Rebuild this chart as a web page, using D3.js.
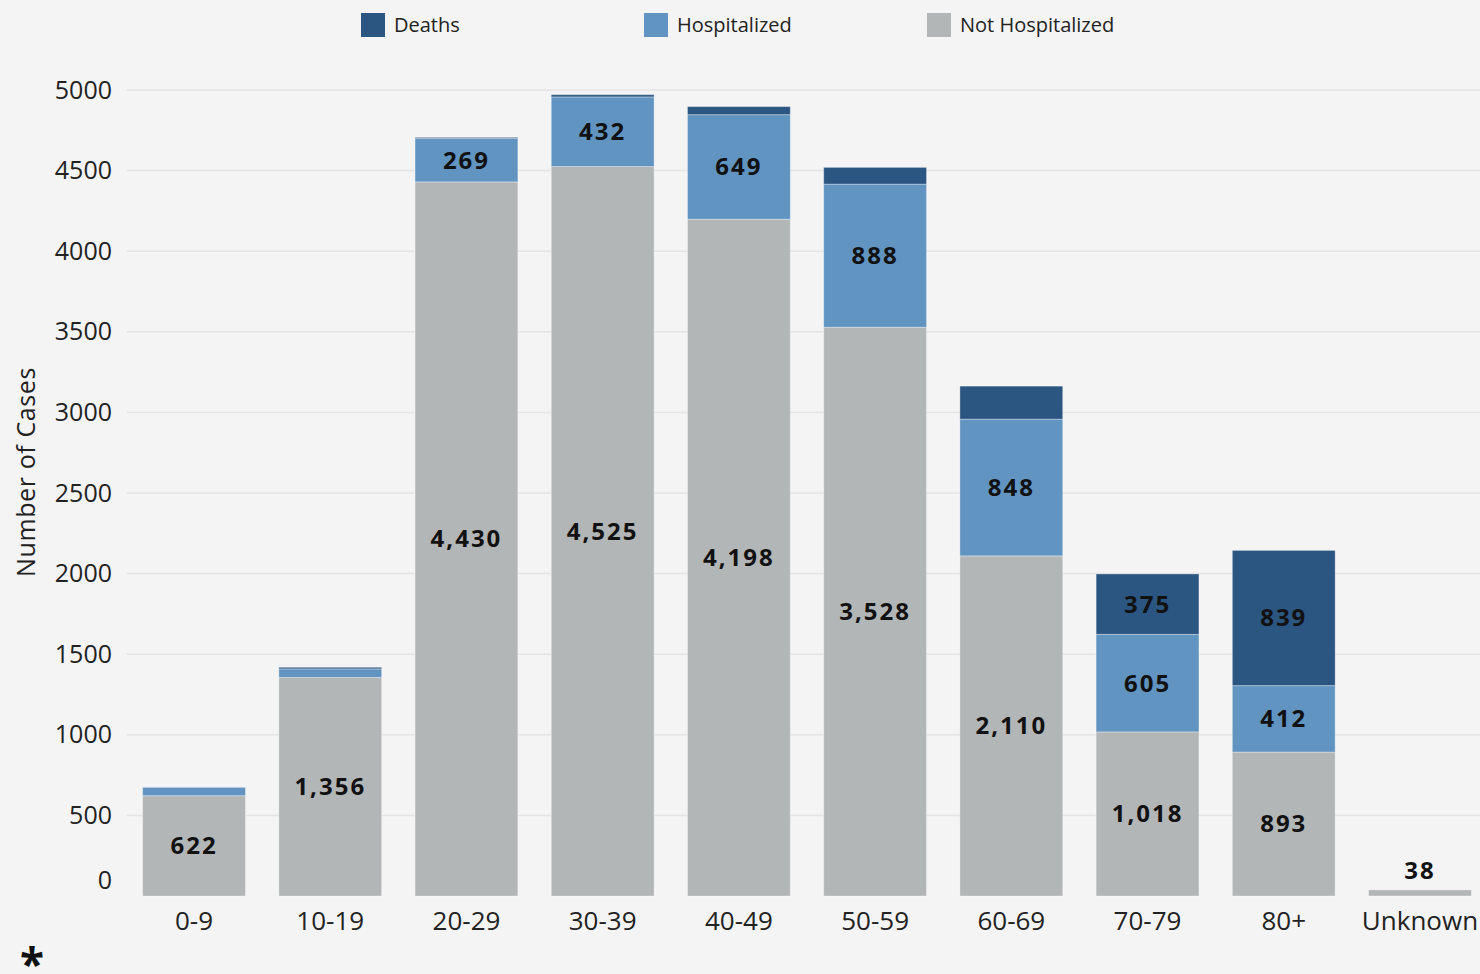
<!DOCTYPE html>
<html>
<head>
<meta charset="utf-8">
<script src="https://cdn.jsdelivr.net/npm/d3@7"></script>
<style>
  body { margin: 0; background: #f4f4f4; }
  svg { display: block; font-family: "Open Sans", "DejaVu Sans", sans-serif; }
</style>
</head>
<body>
<div id="chart"></div>
<script>
// data
const ageGroups = ["0-9", "10-19", "20-29", "30-39", "40-49", "50-59", "60-69", "70-79", "80+", "Unknown"];
const notHospitalized = [622, 1356, 4430, 4525, 4198, 3528, 2110, 1018, 893, 38];
const hospitalized = [52, 53, 269, 432, 649, 888, 848, 605, 412, 0];
const deaths = [0, 10, 7, 14, 50, 104, 205, 375, 839, 0];
const seriesNames = ["Not Hospitalized", "Hospitalized", "Deaths"];
const legendOrder = ["Deaths", "Hospitalized", "Not Hospitalized"];
const yTicks = [0, 500, 1000, 1500, 2000, 2500, 3000, 3500, 4000, 4500, 5000];

/** CONSTANTS */
const width = 1480,
  height = 974,
  margin = { top: 90, bottom: 78, left: 126, right: -8 };

const color = d3.scaleOrdinal()
  .domain(seriesNames)
  .range(["#b3b6b6", "#6194c0", "#2b5682"]);

const table = ageGroups.map((g, i) => ({
  group: g,
  "Not Hospitalized": notHospitalized[i],
  "Hospitalized": hospitalized[i],
  "Deaths": deaths[i]
}));

const stacked = d3.stack().keys(seriesNames)(table);

/** SCALES */
const xScale = d3.scaleBand()
  .domain(ageGroups)
  .range([margin.left, width - margin.right])
  .paddingInner(0.245)
  .paddingOuter(0.122);

const yScale = d3.scaleLinear()
  .domain([0, 5000])
  .range([height - margin.bottom, margin.top]);

/** DRAWING ELEMENTS */
const svg = d3.select("#chart")
  .append("svg")
  .attr("width", width)
  .attr("height", height);

svg.append("rect")
  .attr("width", width).attr("height", height)
  .attr("fill", "#f4f4f4");

// gridlines (none at zero)
svg.append("g")
  .selectAll("line")
  .data(yTicks.filter(d => d > 0))
  .join("line")
  .attr("x1", margin.left + 1)
  .attr("x2", width)
  .attr("y1", d => yScale(d))
  .attr("y2", d => yScale(d))
  .attr("stroke", "#e4e4e4")
  .attr("stroke-width", 1.5);

// y axis labels
const yAxis = d3.axisLeft(yScale).tickValues(yTicks).tickFormat(d3.format("d")).tickSize(0).tickPadding(14);
const yg = svg.append("g")
  .attr("transform", `translate(${margin.left},0)`)
  .call(yAxis);
yg.select(".domain").remove();
yg.selectAll("text")
  .attr("font-size", 25)
  .attr("font-family", "Open Sans, sans-serif")
  .attr("fill", "#222")
  .attr("dy", d => d === 0 ? "-0.3em" : "0.32em");

// y axis title
svg.append("text")
  .attr("transform", `translate(35, 472) rotate(-90)`)
  .attr("text-anchor", "middle")
  .attr("font-size", 25)
  .attr("letter-spacing", 0.6)
  .attr("fill", "#222")
  .text("Number of Cases");

// bars
svg.append("g")
  .selectAll("g")
  .data(stacked)
  .join("g")
  .attr("fill", d => color(d.key))
  .selectAll("rect")
  .data(d => d.map(v => Object.assign(v, { key: d.key })))
  .join("rect")
  .attr("x", d => xScale(d.data.group))
  .attr("width", xScale.bandwidth())
  .attr("y", d => yScale(d[1]))
  .attr("height", d => yScale(d[0]) - yScale(d[1]))
  .attr("stroke", "rgba(255,255,255,0.35)")
  .attr("stroke-width", 1);

// segment labels
const labels = [];
stacked.forEach(s => s.forEach(v => {
  const val = v[1] - v[0];
  const h = yScale(v[0]) - yScale(v[1]);
  if (val <= 0) return;
  if (h >= 40) labels.push({ group: v.data.group, y: (yScale(v[0]) + yScale(v[1])) / 2, val });
  else if (s.key === "Not Hospitalized" && v.data.group === "Unknown") labels.push({ group: v.data.group, y: yScale(v[1]) - 19, val });
}));

svg.append("g")
  .selectAll("text")
  .data(labels)
  .join("text")
  .attr("x", d => xScale(d.group) + xScale.bandwidth() / 2)
  .attr("y", d => d.y)
  .attr("dy", "0.35em")
  .attr("text-anchor", "middle")
  .attr("font-size", 24)
  .attr("font-weight", 700)
  .attr("letter-spacing", 2)
  .attr("fill", "#111")
  .text(d => d3.format(",")(d.val));

// x axis labels
const xAxis = d3.axisBottom(xScale).tickSize(0).tickPadding(16);
const xg = svg.append("g")
  .attr("transform", `translate(0,${height - margin.bottom})`)
  .call(xAxis);
xg.select(".domain").remove();
xg.selectAll("text")
  .attr("font-size", 26)
  .attr("font-family", "Open Sans, sans-serif")
  .attr("fill", "#222");

// legend
const legend = svg.append("g")
  .selectAll("g")
  .data(legendOrder)
  .join("g")
  .attr("transform", (d, i) => `translate(${361 + i * 283}, 13)`);
legend.append("rect")
  .attr("width", 24).attr("height", 24)
  .attr("fill", d => color(d));
legend.append("text")
  .attr("x", 33).attr("y", 12)
  .attr("dy", "0.35em")
  .attr("font-size", 20)
  .attr("fill", "#222")
  .text(d => d);

// footnote asterisk
svg.append("text")
  .attr("x", 20).attr("y", 980)
  .attr("font-size", 44)
  .attr("font-weight", 700)
  .attr("fill", "#111")
  .text("*");
</script>
</body>
</html>
